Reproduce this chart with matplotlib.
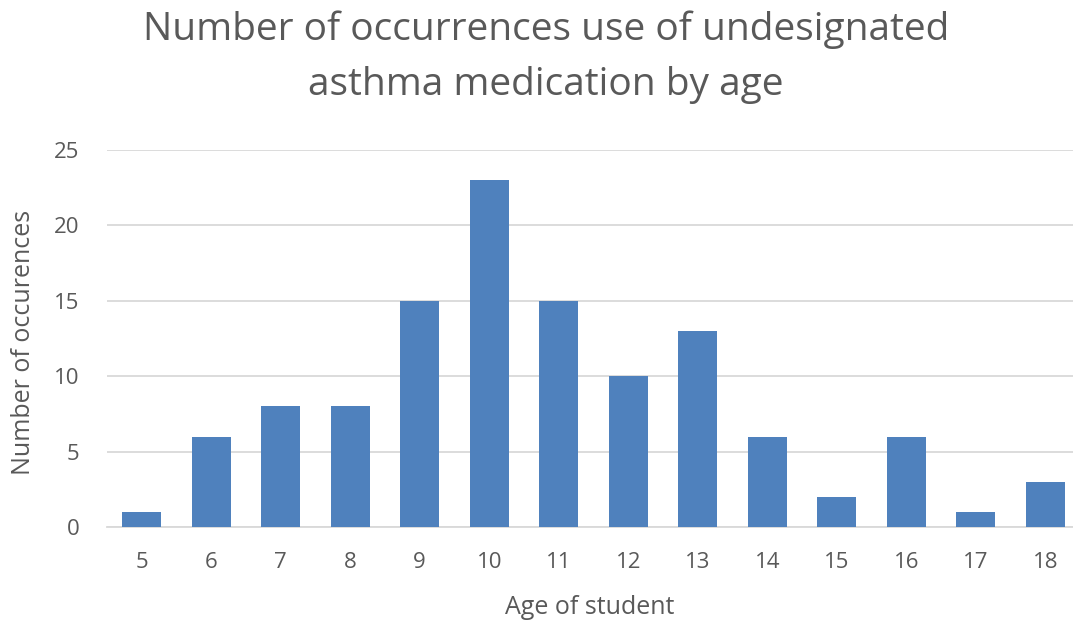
import matplotlib.pyplot as plt

# Data
ages = ['5', '6', '7', '8', '9', '10', '11', '12', '13', '14', '15', '16', '17', '18']
occurrences = [1, 6, 8, 8, 15, 23, 15, 10, 13, 6, 2, 6, 1, 3]

plt.rcParams['font.family'] = ['Open Sans', 'DejaVu Sans']
text_col = '#595959'

fig = plt.figure(figsize=(10.73, 6.29), dpi=100)
ax = fig.add_axes([107 / 1073, (629 - 527) / 629, (1080 - 107) / 1073, (527 - 150) / 629])

x = range(len(ages))
ax.bar(x, occurrences, width=0.56, color='#4F81BD', zorder=3)

ax.set_xlim(-0.5, len(ages) - 0.5)
ax.set_ylim(0, 25)
ax.set_yticks([0, 5, 10, 15, 20, 25])
ax.set_xticks(list(x))
ax.set_xticklabels(ages)

ax.grid(axis='y', color='#d9d9d9', linewidth=1.3, zorder=0)
for s in ['top', 'right', 'left']:
    ax.spines[s].set_visible(False)
ax.spines['bottom'].set_color('#d9d9d9')
ax.spines['bottom'].set_linewidth(1.3)
ax.tick_params(axis='both', length=0, colors=text_col, labelsize=16)
ax.tick_params(axis='x', pad=18)
ax.tick_params(axis='y', pad=20)

ax.set_xlabel('Age of student', fontsize=18, color=text_col)
ax.set_ylabel('Number of occurences', fontsize=18, color=text_col)
ax.xaxis.set_label_coords(0.496, -0.18)
ax.yaxis.set_label_coords(-0.073, 0.49)

fig.text(0.509, 1 - 30 / 629, 'Number of occurrences use of undesignated',
         ha='center', va='center', fontsize=28, color=text_col)
fig.text(0.509, 1 - 85 / 629, 'asthma medication by age',
         ha='center', va='center', fontsize=28, color=text_col)

fig.savefig('out.png', dpi=100)
